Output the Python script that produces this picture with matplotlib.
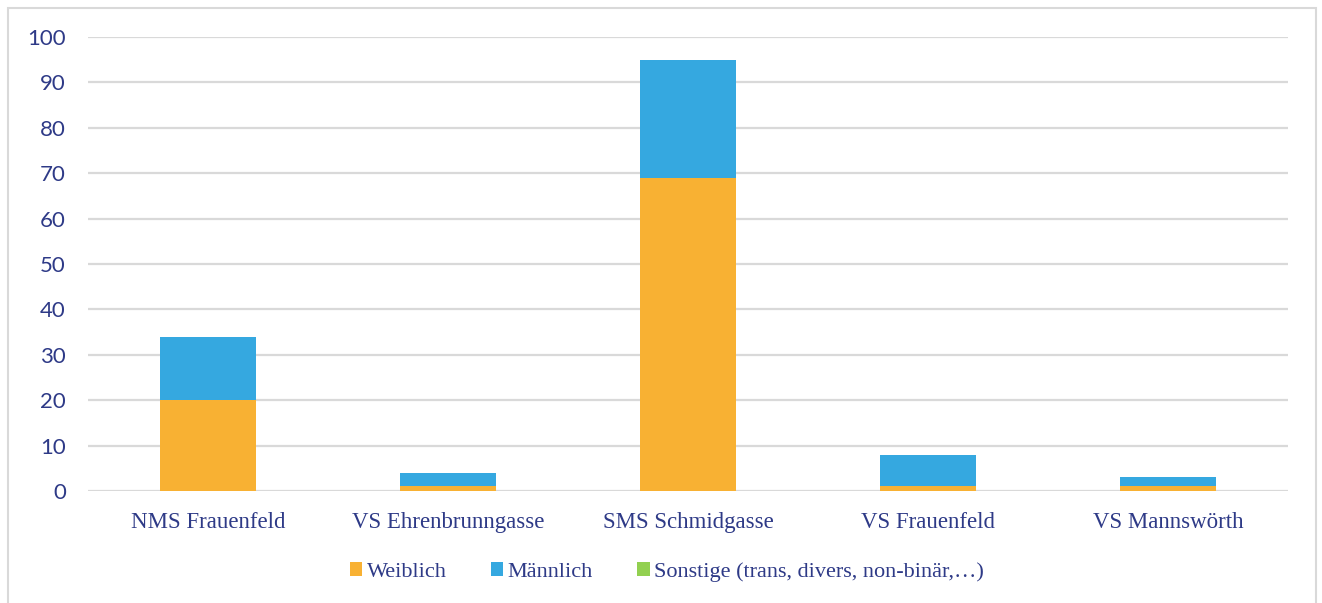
import numpy as np
import matplotlib.pyplot as plt
from matplotlib.patches import Rectangle

schulen = ["NMS Frauenfeld", "VS Ehrenbrunngasse", "SMS Schmidgasse", "VS Frauenfeld", "VS Mannswörth"]
weiblich = [20, 1, 69, 1, 1]
maennlich = [14, 3, 26, 7, 2]
sonstige = [0, 0, 0, 0, 0]
y_ticks = list(range(0, 101, 10))

ORANGE = "#F8B133"
BLAU = "#35A8E0"
GRUEN = "#92D050"
TEXT = "#2E3A87"
GITTER = "#D9D9D9"

fig = plt.figure(figsize=(13.22, 6.03), dpi=100)
ax = fig.add_axes([88/1322, 1 - 491/603, 1200/1322, (491 - 37)/603])

x = np.arange(len(schulen))
unten = np.zeros(len(schulen))
for werte, farbe, name in [(weiblich, ORANGE, "Weiblich"),
                           (maennlich, BLAU, "Männlich"),
                           (sonstige, GRUEN, "Sonstige (trans, divers, non-binär,…)")]:
    ax.bar(x, werte, 0.4, bottom=unten, color=farbe, label=name, zorder=3)
    unten += np.array(werte)

ax.set_xlim(-0.5, len(schulen) - 0.5)
ax.set_ylim(0, 100)
ax.set_yticks(y_ticks)
ax.set_xticks(x)
ax.set_xticklabels(schulen, fontfamily="Liberation Serif", fontsize=16.5, color=TEXT)
for lab in ax.get_yticklabels():
    lab.set_fontfamily("Lato")
    lab.set_fontsize(16)
    lab.set_color(TEXT)
ax.tick_params(axis="y", length=0, pad=16)
ax.tick_params(axis="x", length=0, pad=15)
for s in ax.spines.values():
    s.set_visible(False)
ax.yaxis.grid(True, color=GITTER, linewidth=1.6, zorder=0)
ax.set_axisbelow(True)

leg = fig.legend(loc="center", bbox_to_anchor=(667/1322, 1 - 572/603), ncol=3,
                 frameon=False, prop={"family": "Liberation Serif", "size": 16},
                 handlelength=0.55, handleheight=0.55, handletextpad=0.2, columnspacing=2.0)
for t in leg.get_texts():
    t.set_color(TEXT)

# Rahmen
fig.patches.append(Rectangle((8/1322, -0.05), 1308/1322, 1.05 - 8/603,
                             transform=fig.transFigure, fill=False,
                             edgecolor="#D9D9D9", linewidth=1.5))

fig.savefig("out.png", dpi=100)
